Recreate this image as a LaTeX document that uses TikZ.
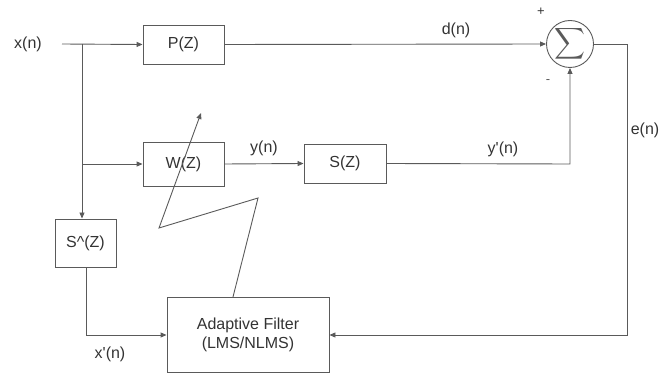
\documentclass[tikz,border=0pt]{standalone}
\usepackage{fontspec}
\usepackage{graphicx}
\setmainfont{Liberation Sans}
\usetikzlibrary{arrows.meta,calc}
\definecolor{linegray}{HTML}{5A5A5A}
\definecolor{textgray}{HTML}{333333}
\tikzset{
  blk/.style={draw=linegray, line width=0.9pt, minimum width=#1, inner sep=0pt, font=\fontsize{16}{19}\selectfont, text=textgray},
  lbl/.style={inner sep=0pt, font=\fontsize{16}{19}\selectfont, text=textgray},
  wire/.style={draw=linegray, line width=0.9pt},
  arr/.style={wire, -{Triangle[length=6pt,width=5pt]}},
}
\begin{document}
\begin{tikzpicture}[x=1pt,y=-1pt]
\useasboundingbox (0,0) rectangle (672,374);
% blocks
\node[blk=81pt, minimum height=39pt] (P) at (183.5,44.5) {P(Z)};
\node[blk=81pt, minimum height=44pt] (W) at (183.5,164) {W(Z)};
\node[blk=82pt, minimum height=39pt] (S) at (345,163.5) {S(Z)};
\node[blk=61pt, minimum height=48pt] (Sh) at (85.5,243) {S\^{}(Z)};
\node[blk=162pt, minimum height=75pt, align=center] (AF) at (248,334.5) {Adaptive Filter\\(LMS/NLMS)};
\node[circle, draw=linegray, line width=0.9pt, minimum size=47pt, inner sep=0pt] (sum) at (570,44) {};
\node[inner sep=0pt, text=linegray] (sig) at (sum.center) {\resizebox{31pt}{23pt}{$\displaystyle\sum$}};
% labels
\node[lbl] (xn) at (28,44) {x(n)};
\node[lbl] (dn) at (456,30) {d(n)};
\node[lbl] (yn) at (264,148) {y(n)};
\node[lbl] (ypn) at (503,149) {y\textquotesingle(n)};
\node[lbl] (en) at (645,130) {e(n)};
\node[lbl] (xpn) at (110,354) {x\textquotesingle(n)};
\node[lbl, font=\fontsize{13}{15}\selectfont] (plus) at (541,12) {+};
\node[lbl, font=\fontsize{13}{15}\selectfont, text=linegray] (minus) at (548,82) {-};
% coordinates
\coordinate (in) at (62,44);
\coordinate (j1) at (82,44);
\coordinate (j2) at (82,164);
\coordinate (c1) at (570,164);
\coordinate (c2) at (627,44);
\coordinate (c3) at (627,335);
\coordinate (c4) at (86,335);
\coordinate (z0) at (233,297);
\coordinate (z1) at (258,198);
\coordinate (z2) at (159,228);
\coordinate (z3) at (201,113);
% connectors
\draw[arr] (in) -- (P.west);
\draw[arr] (j1) -- (j1 |- Sh.north);
\draw[arr] (j2) -- (W.west);
\draw[arr] (W.east) -- (S.west);
\draw[arr] (P.east) -- (sum.west);
\draw[arr] (S.east) -- (c1) -- (sum.south);
\draw[arr] (sum.east) -- (c2) -- (c3) -- (AF.east |- c3);
\draw[arr] (c4 |- Sh.south) -- (c4) -- (AF.west |- c4);
\draw[arr] (z0) -- (z1) -- (z2) -- (z3);
\end{tikzpicture}
\end{document}
